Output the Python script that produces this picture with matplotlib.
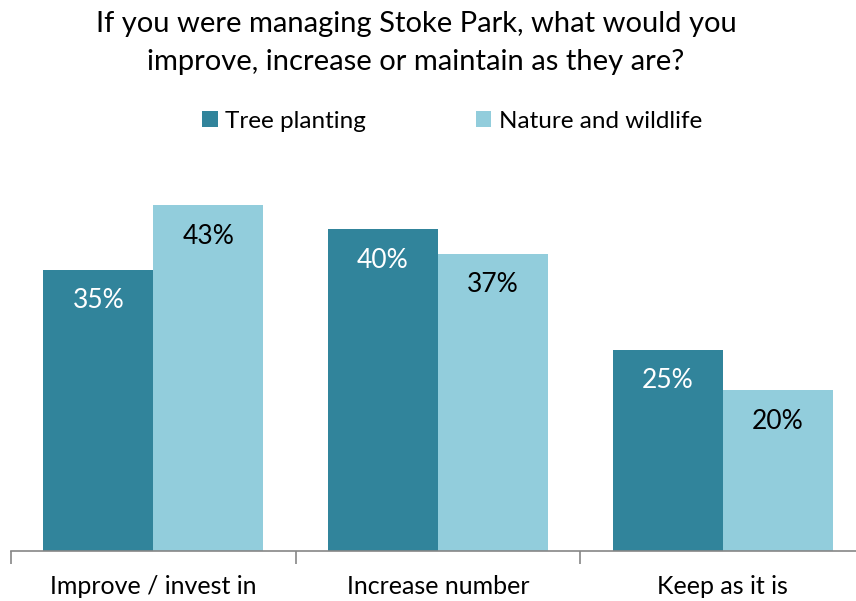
import matplotlib
matplotlib.use("Agg")
import matplotlib.pyplot as plt
import numpy as np

categories = ["Improve / invest in", "Increase number", "Keep as it is"]
series_names = ["Tree planting", "Nature and wildlife"]
tree_planting = [35, 40, 25]
nature_wildlife = [43, 37, 20]
title = "If you were managing Stoke Park, what would you\nimprove, increase or maintain as they are?"

dark = "#31849B"
light = "#92CDDC"
FONT = "Lato"
plt.rcParams['font.family'] = [FONT, 'DejaVu Sans']

W, H = 856, 601
fig = plt.figure(figsize=(W / 100, H / 100), dpi=100)
ax = fig.add_axes([11 / W, 50 / H, 854 / W, 402 / H])

x = np.arange(len(categories))
bw = 0.386
b1 = ax.bar(x - bw / 2, tree_planting, bw, color=dark, label=series_names[0])
b2 = ax.bar(x + bw / 2, nature_wildlife, bw, color=light, label=series_names[1])

ax.set_xlim(-0.5, len(categories) - 0.5)
ax.set_ylim(0, 50)

for rects, vals, col in ((b1, tree_planting, "white"), (b2, nature_wildlife, "black")):
    for r, v in zip(rects, vals):
        ax.annotate(f"{v}%", (r.get_x() + r.get_width() / 2, v), xytext=(0, -31),
                    textcoords="offset pixels",
                    ha="center", va="center", fontsize=19, color=col)

for s in ["top", "right", "left"]:
    ax.spines[s].set_visible(False)
ax.spines["bottom"].set_color("#868686")
ax.spines["bottom"].set_linewidth(1.2)
ax.set_yticks([])
ax.set_xticks(np.arange(len(categories) + 1) - 0.5)
ax.set_xticklabels([""] * (len(categories) + 1))
ax.tick_params(axis="x", length=9, width=1.2, color="#868686")
for i, c in enumerate(categories):
    fig.text((11 + (i + 0.5) * 284.67) / W, 1 - 586 / H, c, ha="center", va="center",
             fontsize=18, color="black")

fig.text(416 / W, 1 - 43 / H, title, ha="center", va="center", fontsize=21,
         linespacing=1.55, color="black")

leg = fig.legend(handles=[b1, b2], labels=series_names, loc="center",
                 bbox_to_anchor=(452 / W, 1 - 121 / H), ncol=2, frameon=False,
                 fontsize=17.5, handlelength=0.65, handleheight=0.65, handletextpad=0.3,
                 columnspacing=4.5)

fig.savefig("out.png", dpi=100)
